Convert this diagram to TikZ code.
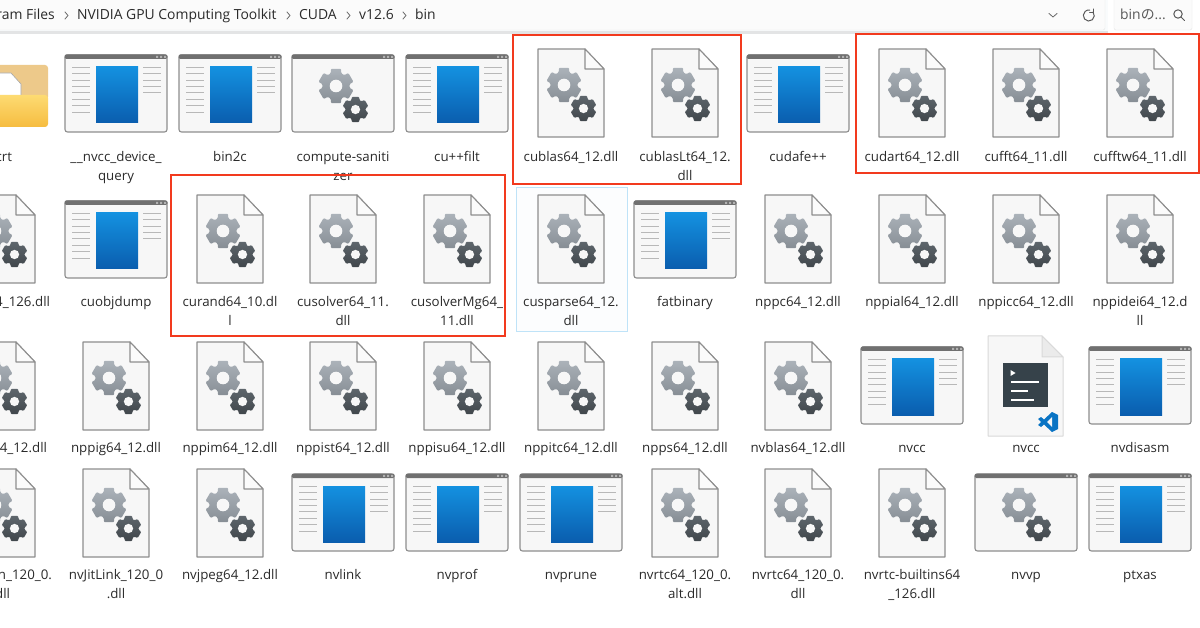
\documentclass[tikz,border=0pt]{standalone}
\usepackage{fontspec}
\setmainfont{Open Sans}
\newfontfamily\cjkf{Noto Sans CJK JP}
\definecolor{ink}{HTML}{2A2A2A}
\definecolor{edge}{HTML}{8E8E8E}
\definecolor{paper}{HTML}{F7F7F7}
\definecolor{fold}{HTML}{FBFBFB}
\definecolor{bar}{HTML}{707070}
\definecolor{rule}{HTML}{B8B8B8}
\definecolor{bluetop}{HTML}{1491E0}
\definecolor{bluebot}{HTML}{0A5DAE}
\definecolor{redbox}{HTML}{F23A1E}
\definecolor{crumb}{HTML}{F9FBFC}
\definecolor{termdark}{HTML}{36424A}
\definecolor{vsblue}{HTML}{0A74C4}
\definecolor{selline}{HTML}{BFE3F8}
\definecolor{selfill}{HTML}{FCFDFE}
\definecolor{foldback}{HTML}{EDC98A}
\definecolor{foldtop}{HTML}{FDDB72}
\definecolor{foldbot}{HTML}{F6BC40}
\definecolor{biggeartop}{HTML}{ABB2B9}
\definecolor{biggearbot}{HTML}{878E95}
\definecolor{smallgeartop}{HTML}{5E666C}
\definecolor{smallgearbot}{HTML}{40464B}
\tikzset{
  lbl/.style={inner sep=0pt,outer sep=0pt,align=center,text=ink,anchor=north,
    font=\fontsize{13.3}{19.5}\selectfont},
  lble/.style={lbl,anchor=north east},
  crumbtext/.style={inner sep=0pt,text=ink,anchor=base west,font=\fontsize{13.9}{16}\selectfont},
  chev/.style={draw=black!60,line width=.8pt,line cap=round,line join=round},
  tool/.style={draw=black!65,line width=1pt,line cap=round},
}
\newcommand{\gearshape}[4]{% cx cy R style colors
  \begin{scope}[shift={(#1,#2)}]
  \shade[#4,rounded corners=1.2pt]
    (30-17:#3) -- (30+17:#3) -- (30+22:.76*#3) -- (90-22:.76*#3)
    -- (90-17:#3) -- (90+17:#3) -- (90+22:.76*#3) -- (150-22:.76*#3)
    -- (150-17:#3) -- (150+17:#3) -- (150+22:.76*#3) -- (210-22:.76*#3)
    -- (210-17:#3) -- (210+17:#3) -- (210+22:.76*#3) -- (270-22:.76*#3)
    -- (270-17:#3) -- (270+17:#3) -- (270+22:.76*#3) -- (330-22:.76*#3)
    -- (330-17:#3) -- (330+17:#3) -- (330+22:.76*#3) -- (30-22:.76*#3) -- cycle;
  \fill[paper] (0,0) circle ({.35*#3});
  \end{scope}}
\newcommand{\gears}[2]{%
  \gearshape{#1-7}{#2}{18}{top color=biggeartop,bottom color=biggearbot}
  \gearshape{#1+12.5}{#2+23.5}{13.3}{top color=smallgeartop,bottom color=smallgearbot}}
\newcommand{\dllbody}[2]{% cx top
  \begin{scope}[shift={(#1,#2)}]
  \draw[edge,fill=paper,line width=1.1pt,line join=round] (-33,0) -- (14,0) -- (33,20) -- (33,88) -- (-33,88) -- cycle;
  \draw[edge,fill=fold,line width=1.1pt,line join=round] (14,0) -- (14,20) -- (33,20) -- cycle;
  \end{scope}
  \gears{#1}{#2+36}}
\newcommand{\appbody}[2]{% cx top
  \begin{scope}[shift={(#1,#2)}]
  \draw[edge,fill=paper,line width=1.1pt,rounded corners=2.5pt] (-51,0) rectangle (51,77);
  \fill[bar,rounded corners=1.5pt] (-51.5,-.5) rectangle (51.5,4);
  \fill[black!30] (40,.8) rectangle (42,2.8) (44,.8) rectangle (46,2.8) (48,.8) rectangle (50,2.8);
  \end{scope}}
\newcommand{\appblue}[2]{%
  \appbody{#1}{#2}
  \begin{scope}[shift={(#1,#2)}]
  \foreach \i in {0,...,7}{\draw[rule,line width=.9pt] (-44,12.3+6.4*\i) -- (-26,12.3+6.4*\i);}
  \foreach \i in {0,...,4}{\draw[rule,line width=.9pt] (27,12.3+6.4*\i) -- (45,12.3+6.4*\i);}
  \shade[top color=bluetop,bottom color=bluebot] (-20,12) rectangle (22,68);
  \end{scope}}
\newcommand{\appgear}[2]{\appbody{#1}{#2}\gears{#1}{#2+31}}
\newcommand{\lab}[4]{\node[lbl] (#1) at (#2,#3-13.2) {\strut #4};}
\newcommand{\dllat}[5]{\dllbody{#1}{#2}\lab{#4}{#1}{#3}{#5}}
\newcommand{\blueat}[5]{\appblue{#1}{#2}\lab{#4}{#1}{#3}{#5}}
\newcommand{\gearat}[5]{\appgear{#1}{#2}\lab{#4}{#1}{#3}{#5}}
\begin{document}
\begin{tikzpicture}[x=1pt,y=-1pt]
\useasboundingbox (0,0) rectangle (1200,628);
\clip (0,0) rectangle (1200,628);
\fill[white] (0,0) rectangle (1200,628);
% toolbar
\fill[crumb] (0,0) rectangle (1200,31);
\fill[black!9!crumb] (0,31) rectangle (1200,34);
\fill[white] (1108,0) rectangle (1200,33);
\draw[black!10,fill=fold,rounded corners=2pt] (-5,-5) rectangle (1105,30);
\draw[black!10,fill=fold,rounded corners=2pt] (1114,-5) rectangle (1192,30);
\node[crumbtext,anchor=base east] (c0) at (55,20) {ram Files};
\node[crumbtext] (c1) at (77,20) {NVIDIA GPU Computing Toolkit};
\node[crumbtext] (c2) at (299,20) {CUDA};
\node[crumbtext] (c3) at (359,20) {v12.6};
\node[crumbtext] (c4) at (415,20) {bin};
\foreach \x in {65,287,347,403}{\draw[chev] (\x,12) -- (\x+3,15.5) -- (\x,19);}
\draw[chev] (1049,13.5) -- (1053,17) -- (1057,13.5);
\draw[tool] (1093,12) arc (-40:280:5.5);
\draw[tool] (1093,9) -- (1093,12.5) -- (1089.5,12.5);
\node[crumbtext,text=black!65] (s0) at (1120,20) {bin{\cjkf の}...};
\draw[tool] (1178,14) circle (4.2);
\draw[tool] (1181,17) -- (1184.5,20.5);
% selection
\draw[draw=selline,fill=selfill] (516.5,187.5) rectangle (627,331);
% folder
\fill[foldback,rounded corners=3pt] (-10,65) rectangle (48,100);
\fill[white,draw=black!35,line width=.6pt] (-10,73) -- (11,73) -- (21,84) -- (21,96) -- (-10,96) -- cycle;
\shade[top color=foldtop,bottom color=foldbot,rounded corners=3pt] (-10,95) rectangle (48,127);
\node[lble] (crt) at (12,147.8) {\strut crt};
% row 1
\blueat{116}{55}{161}{nvccdev}{\_\kern.5pt\_nvcc\_device\_\\query}
\blueat{230}{55}{161}{bintwoc}{bin2c}
\gearat{343}{55}{161}{compsan}{compute-saniti\\zer}
\blueat{457}{55}{161}{cufilt}{cu++filt}
\dllat{571}{49}{161}{cublas}{cublas64\_12.dll}
\dllat{685}{49}{161}{cublaslt}{cublasLt64\_12.\\dll}
\blueat{798}{55}{161}{cudafe}{cudafe++}
\dllat{912}{49}{161}{cudart}{cudart64\_12.dll}
\dllat{1026}{49}{161}{cufft}{cufft64\_11.dll}
\dllat{1140}{49}{161}{cufftw}{cufftw64\_11.dll}
% row 2
\dllbody{2}{195}
\node[lble] (rowtwozero) at (50,292.8) {\strut 4\_126.dll};
\blueat{116}{201}{306}{cuobj}{cuobjdump}
\dllat{230}{195}{306}{curand}{curand64\_10.dl\\l}
\dllat{343}{195}{306}{cusolver}{cusolver64\_11.\\dll}
\dllat{457}{195}{306}{cusolvermg}{cusolverMg64\_\\11.dll}
\dllat{571}{195}{306}{cusparse}{cusparse64\_12.\\dll}
\blueat{685}{201}{306}{fatbin}{fatbinary}
\dllat{798}{195}{306}{nppc}{nppc64\_12.dll}
\dllat{912}{195}{306}{nppial}{nppial64\_12.dll}
\dllat{1026}{195}{306}{nppicc}{nppicc64\_12.dll}
\dllat{1140}{195}{306}{nppidei}{nppidei64\_12.d\\ll}
% row 3
\dllbody{2}{342}
\node[lble] (rowthreezero) at (47,438.8) {\strut 4\_12.dll};
\dllat{116}{342}{452}{nppig}{nppig64\_12.dll}
\dllat{230}{342}{452}{nppim}{nppim64\_12.dll}
\dllat{343}{342}{452}{nppist}{nppist64\_12.dll}
\dllat{457}{342}{452}{nppisu}{nppisu64\_12.dll}
\dllat{571}{342}{452}{nppitc}{nppitc64\_12.dll}
\dllat{685}{342}{452}{npps}{npps64\_12.dll}
\dllat{798}{342}{452}{nvblas}{nvblas64\_12.dll}
\blueat{912}{347}{452}{nvcca}{nvcc}
% code file icon
\draw[black!15,fill=paper,line width=1pt,line join=round] (988,336) -- (1042,336) -- (1063,357) -- (1063,436) -- (988,436) -- cycle;
\draw[black!15,fill=black!8,line width=1pt,line join=round] (1042,336) -- (1042,357) -- (1063,357) -- cycle;
\fill[termdark] (1003,363) rectangle (1048,407);
\fill[white] (1010.5,370) -- (1015.5,373) -- (1010.5,376) -- cycle;
\draw[white,line width=2.4pt] (1011,382) -- (1039,382) (1011,391) -- (1028,391) (1011,400) -- (1034,400);
\fill[vsblue] (1052,412) -- (1058,415) -- (1058,429) -- (1052,432) -- (1044,424.5) -- (1041,427) -- (1038,425) -- (1041,422) -- (1038,419) -- (1041,417) -- (1044,419.5) -- cycle;
\fill[paper] (1052,417) -- (1047,422) -- (1052,427) -- cycle;
\lab{nvccb}{1026}{452}{nvcc}
\blueat{1140}{347}{452}{nvdis}{nvdisasm}
% row 4
\dllbody{2}{469}
\node[lble] (rowfourzero) at (52,565.8) {\strut n\_120\_0.};
\node[lble] (rowfourzerob) at (10,585.3) {\strut dll};
\dllat{116}{469}{579}{nvjit}{nvJitLink\_120\_0\\.dll}
\dllat{230}{469}{579}{nvjpeg}{nvjpeg64\_12.dll}
\blueat{343}{474}{579}{nvlink}{nvlink}
\blueat{457}{474}{579}{nvprof}{nvprof}
\blueat{571}{474}{579}{nvprune}{nvprune}
\dllat{685}{469}{579}{nvrtca}{nvrtc64\_120\_0.\\alt.dll}
\dllat{798}{469}{579}{nvrtcb}{nvrtc64\_120\_0.\\dll}
\dllat{912}{469}{579}{nvrtcc}{nvrtc-builtins64\\\_126.dll}
\gearat{1026}{474}{579}{nvvp}{nvvp}
\blueat{1140}{474}{579}{ptxas}{ptxas}
% red frames
\draw[redbox,line width=2pt] (513,35) rectangle (741,184);
\draw[redbox,line width=2pt] (856,34) rectangle (1199,173.5);
\draw[redbox,line width=2pt] (170.5,175.5) rectangle (505,336);
\end{tikzpicture}
\end{document}
